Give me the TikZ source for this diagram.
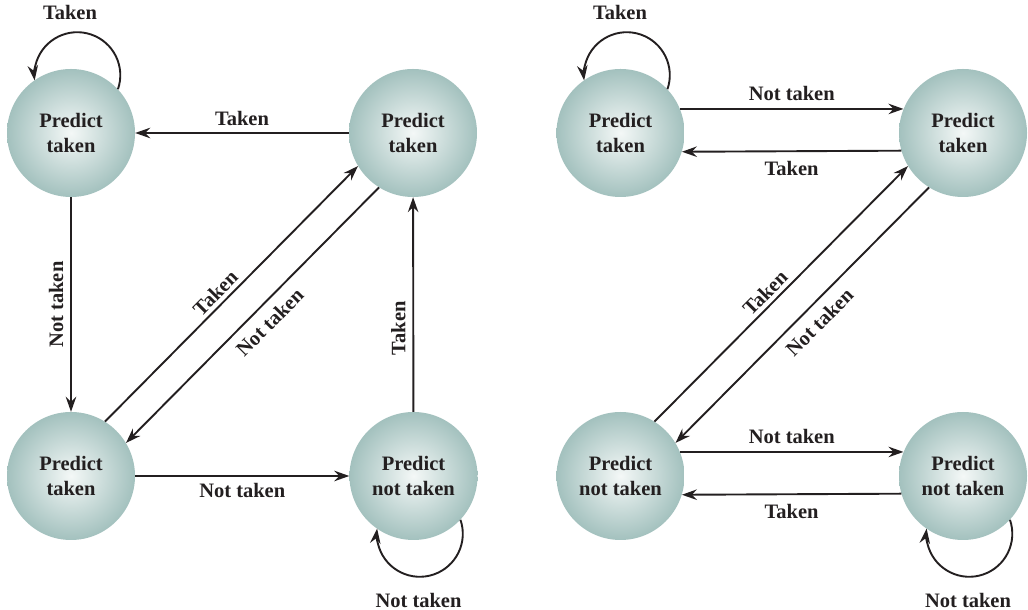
\documentclass[tikz,border=0pt]{standalone}
\usepackage{fontspec}
\setmainfont{Liberation Serif}
\usetikzlibrary{arrows.meta,calc}
\definecolor{ink}{HTML}{231F20}
\definecolor{ballin}{HTML}{F4F8F7}
\definecolor{ballout}{HTML}{A3C1BE}
\begin{document}
\begin{tikzpicture}[x=1pt,y=1pt,
  every node/.style={font=\bfseries\fontsize{20.5}{25}\selectfont, text=ink},
  state/.style={circle, minimum size=128pt, inner sep=0pt, align=center,
    inner color=ballin, outer color=ballout},
  arr/.style={draw=ink, line width=1.9pt, -{Stealth[length=15pt,width=10.5pt,inset=5pt]}},
  lbl/.style={inner sep=6.8pt}]
\useasboundingbox (0,0) rectangle (1028,610);
% left diagram
\node[state] (A) at (71,477) {Predict\\taken};
\node[state] (B) at (413,477) {Predict\\taken};
\node[state] (C) at (71,134) {Predict\\taken};
\node[state] (D) at (413.5,134) {Predict\\not taken};
% right diagram
\node[state] (E) at (620.5,477) {Predict\\taken};
\node[state] (F) at (963,477) {Predict\\taken};
\node[state] (G) at (620.5,134) {Predict\\not taken};
\node[state] (H) at (963,134) {Predict\\not taken};

% left edges
\draw[arr] (B) -- (A) node[lbl, midway, above] {Taken};
\draw[arr] (A) -- (C) node[lbl, midway, rotate=90, anchor=south] {Not taken};
\draw[arr] (C) -- (D) node[lbl, midway, below] {Not taken};
\draw[arr] (D) -- (B) node[lbl, pos=0.39, rotate=90, anchor=south] {Taken};
\draw[arr] (C.58.5) -- (B.211.5) node[lbl, pos=0.47, sloped, above, inner sep=4pt] {Taken};
\draw[arr] (B.238.5) -- (C.31.5) node[lbl, pos=0.48, sloped, below, inner sep=9pt] {Not taken};
\draw[arr] (A.43) arc[start angle=-19, end angle=187, radius=43pt];
\node (lA) at ($(A.north)+(-1,56)$) {Taken};
\draw[arr] (D.-43) arc[start angle=19, end angle=-187, radius=43pt];
\node (lD) at ($(D.south)+(5,-60)$) {Not taken};

% right edges
\draw[arr] (E.22) -- (F.158) node[lbl, midway, above] {Not taken};
\draw[arr] (F.196.8) -- (E.343.2) node[lbl, midway, below, yshift=-2pt] {Taken};
\draw[arr] (G.22) -- (H.158) node[lbl, midway, above] {Not taken};
\draw[arr] (H.196.8) -- (G.343.2) node[lbl, midway, below, yshift=-2pt] {Taken};
\draw[arr] (G.58.5) -- (F.211.5) node[lbl, pos=0.47, sloped, above, inner sep=4pt] {Taken};
\draw[arr] (F.238.5) -- (G.31.5) node[lbl, pos=0.48, sloped, below, inner sep=9pt] {Not taken};
\draw[arr] (E.43) arc[start angle=-19, end angle=187, radius=43pt];
\node (lE) at ($(E.north)+(-0.5,56)$) {Taken};
\draw[arr] (H.-43) arc[start angle=19, end angle=-187, radius=43pt];
\node (lH) at ($(H.south)+(5,-60)$) {Not taken};
\end{tikzpicture}
\end{document}
